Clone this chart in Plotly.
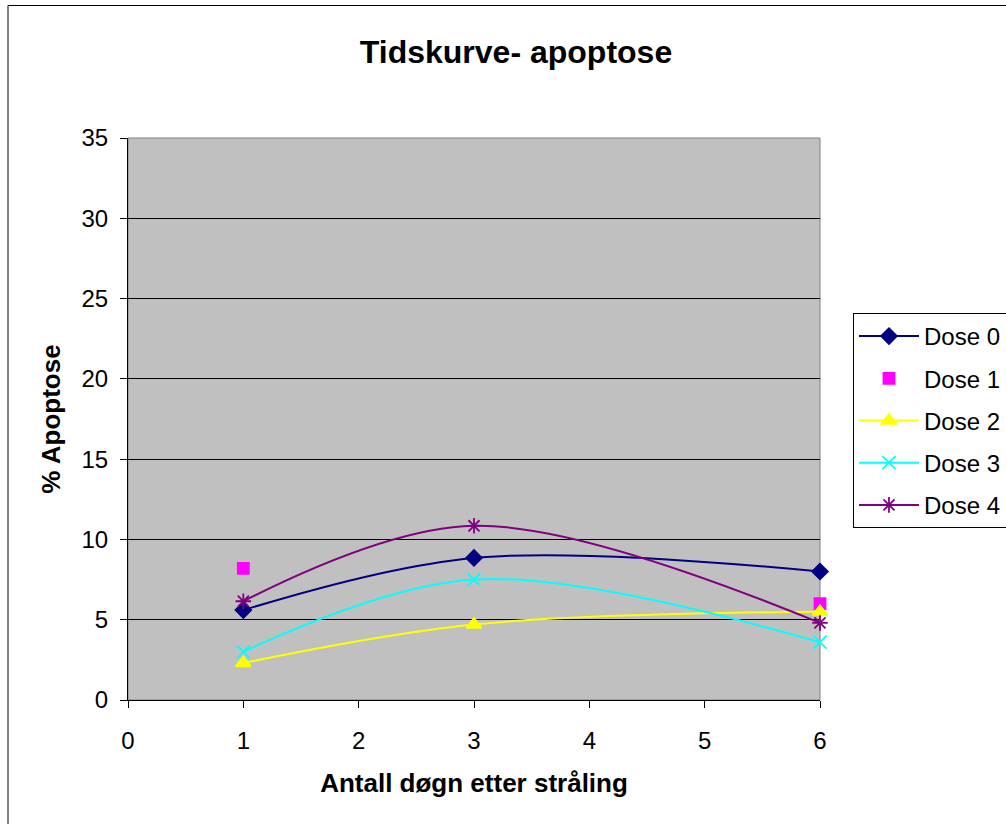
import plotly.graph_objects as go

# Days after irradiation and % apoptotic cells per dose
days = [1, 3, 6]
dose0 = [5.6, 8.85, 8.0]
dose1 = [8.2, None, 6.0]
dose2 = [2.3, 4.7, 5.5]
dose3 = [3.0, 7.5, 3.6]
dose4 = [6.15, 10.85, 4.8]

names = ["Dose 0", "Dose 1", "Dose 2", "Dose 3", "Dose 4"]
colors = ["#000080", "#FF00FF", "#FFFF00", "#00FFFF", "#800080"]
symbols = ["diamond", "square", "triangle-up", "x-thin-open", "asterisk-open"]
sizes = [12, 11, 13, 13, 13]
series = [dose0, dose1, dose2, dose3, dose4]

FONT = "Liberation Sans, Arial, sans-serif"

fig = go.Figure()
for name, ys, col, sym, sz in zip(names, series, colors, symbols, sizes):
    lines = name != "Dose 1"
    fig.add_trace(go.Scatter(
        x=days, y=ys, name=name, legendgroup=name,
        mode="lines+markers" if lines else "markers",
        line=dict(color=col, width=2, shape="spline", smoothing=1.0),
        marker=dict(symbol=sym, size=sz, color=col,
                    line=dict(color=col, width=1.8)),
        cliponaxis=False,
    ))

W, H = 1006, 824
L, R, T, B = 128, 186, 138, 124
pw, ph = W - L - R, H - T - B

def px_x(p):
    return (p - L) / pw

def px_y(p):
    return (H - B - p) / ph

fig.update_layout(
    width=W, height=H,
    margin=dict(l=L, r=R, t=T, b=B, autoexpand=False),
    paper_bgcolor="white",
    plot_bgcolor="#C0C0C0",
    font=dict(family=FONT, size=24, color="black"),
    title=dict(text="<b>Tidskurve- apoptose</b>", x=px_x(516), xanchor="center",
               xref="paper", y=1 - 52 / H, yanchor="middle",
               font=dict(size=32, family=FONT)),
    xaxis=dict(
        range=[0, 6], dtick=1, tick0=0, showgrid=False, zeroline=False,
        showline=True, linecolor="#000000", linewidth=1,
        ticks="outside", ticklen=7, tickcolor="#000000",
        ticklabelstandoff=12,
        tickfont=dict(size=24, family=FONT),
        title=dict(text="<b>Antall døgn etter stråling</b>",
                   font=dict(size=26, family=FONT), standoff=21),
    ),
    yaxis=dict(
        range=[0, 35], dtick=5, tick0=0, showgrid=True, gridcolor="#000000",
        gridwidth=1, zeroline=False,
        showline=True, linecolor="#000000", linewidth=1,
        ticks="outside", ticklen=7, tickcolor="#000000",
        ticklabelstandoff=7,
        tickfont=dict(size=24, family=FONT),
        title=dict(text="<b>% Apoptose</b>",
                   font=dict(size=26, family=FONT), standoff=13),
    ),
    legend=dict(
        x=px_x(853), y=px_y(313), xanchor="left", yanchor="top",
        bgcolor="white", bordercolor="#000000", borderwidth=1,
        font=dict(size=24, family=FONT), itemwidth=60,
        tracegroupgap=8,
    ),
    shapes=[
        # plot area frame
        dict(type="rect", xref="paper", yref="paper", x0=0, x1=1, y0=0, y1=1,
             line=dict(color="#808080", width=1), layer="below"),
        # chart area frame
        dict(type="rect", xref="paper", yref="paper",
             x0=px_x(8), x1=px_x(1012), y0=px_y(830), y1=px_y(5.5),
             line=dict(color="#000000", width=1), fillcolor="rgba(0,0,0,0)"),
    ],
)

fig.write_html("out.html")
